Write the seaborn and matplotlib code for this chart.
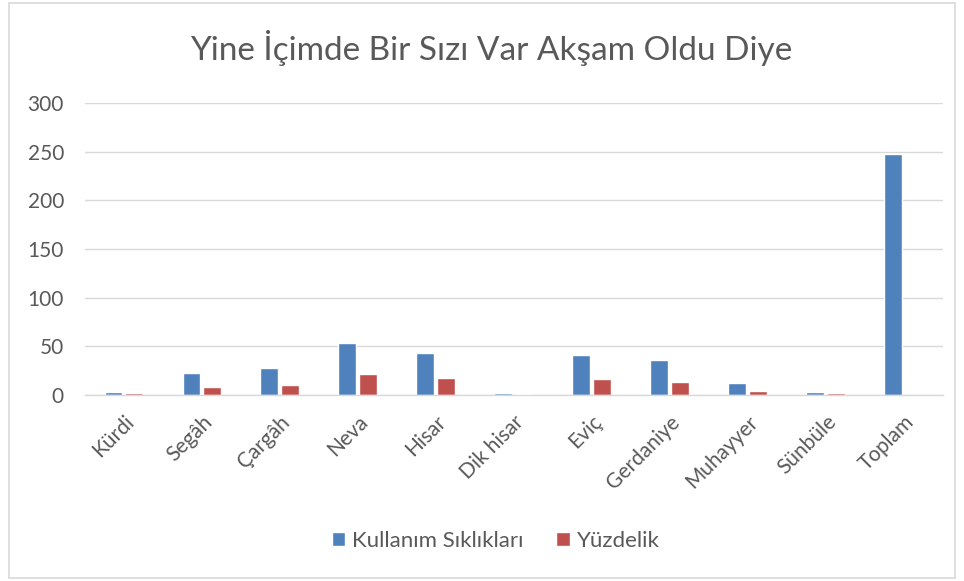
import matplotlib
matplotlib.use("Agg")
import matplotlib.pyplot as plt
from matplotlib.patches import Rectangle, Patch
import numpy as np
import pandas as pd
import seaborn as sns

# data
makamlar = ["Kürdi", "Segâh", "Çargâh", "Neva", "Hisar", "Dik hisar",
            "Eviç", "Gerdaniye", "Muhayyer", "Sünbüle", "Toplam"]
kullanim = [3, 23, 28, 53, 43, 2, 41, 36, 12, 3, 248]
yuzdelik = [1.7, 8.1, 10.6, 21.6, 17.5, 0.8, 16.1, 13.4, 4.1, 1.7, np.nan]
series = ["Kullanım Sıklıkları", "Yüzdelik"]
colors = ["#4F81BD", "#C0504D"]

df = pd.DataFrame({"makam": makamlar, series[0]: kullanim, series[1]: yuzdelik})
long = df.melt(id_vars="makam", var_name="seri", value_name="deger").dropna()

sns.set_theme(style="white")
plt.rcParams["font.family"] = ["Lato", "DejaVu Sans"]
grey = "#595959"
grid = "#D9D9D9"

fig = plt.figure(figsize=(9.64, 5.81), dpi=100)
ax = fig.add_axes([0.088, 0.320, 0.890, 0.5027])

sns.barplot(data=long, x="makam", y="deger", hue="seri", order=makamlar,
            hue_order=series, palette=colors, saturation=1, width=0.53, gap=0.13,
            errorbar=None, legend=False, ax=ax)

ax.set_ylim(0, 300)
ax.set_yticks(range(0, 301, 50))
ax.set_xlim(-0.5, len(makamlar) - 0.5)
ax.yaxis.grid(True, color=grid, lw=1)
ax.set_axisbelow(True)
for s in ["top", "right", "left"]:
    ax.spines[s].set_visible(False)
ax.spines["bottom"].set_color(grid)
ax.spines["bottom"].set_linewidth(1)
ax.tick_params(axis="both", length=0, colors=grey, labelsize=15)
ax.tick_params(axis="y", pad=15)
ax.tick_params(axis="x", pad=12)
plt.setp(ax.get_xticklabels(), rotation=45, ha="right", rotation_mode="anchor")
ax.set_xlabel(""); ax.set_ylabel("")

fig.text(0.51, 0.917, "Yine İçimde Bir Sızı Var Akşam Oldu Diye",
         ha="center", va="center", fontsize=24, color=grey)

handles = [Patch(facecolor=c, label=l) for c, l in zip(colors, series)]
fig.legend(handles=handles, loc="center", bbox_to_anchor=(0.514, 0.069), ncol=2,
           frameon=False, fontsize=16, handlelength=0.6, handleheight=0.6,
           handletextpad=0.3, columnspacing=1.5, labelcolor=grey)

fig.patches.append(Rectangle((0.0093, 0.005), 0.981, 0.99, transform=fig.transFigure,
                             fill=False, edgecolor=grid, lw=1.2))

fig.savefig("out.png", dpi=100)
